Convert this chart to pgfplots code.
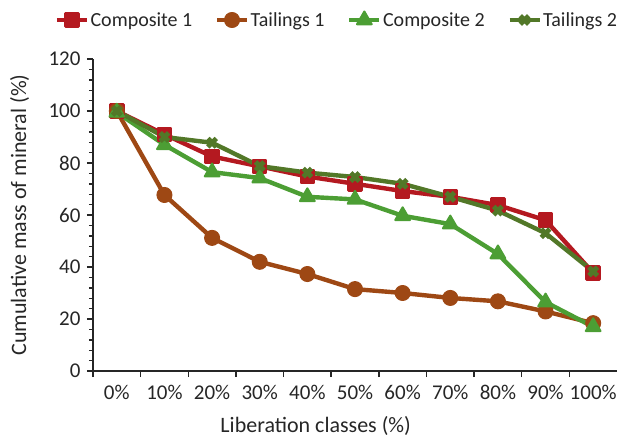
\documentclass[border=0pt]{standalone}
\usepackage{pgfplots}
\pgfplotsset{compat=1.18}
\usepackage{fontspec}
\setmainfont{Carlito}
\definecolor{cA}{RGB}{180,25,32}
\definecolor{cB}{RGB}{158,72,20}
\definecolor{cC}{RGB}{76,158,52}
\definecolor{cD}{RGB}{82,120,40}
\begin{document}
\begin{tikzpicture}
\path[use as bounding box] (-93pt,-66pt) rectangle (524pt,371pt);
\begin{axis}[
  at={(0,0)}, anchor=south west,
  scale only axis, width=524pt, height=312pt,
  xmin=-0.5, xmax=10.5, ymin=0, ymax=120,
  axis x line*=bottom, axis y line*=left,
  axis line style={-, line width=1.6pt, black!85},
  tick align=outside,
  major tick length=6pt, minor tick length=4pt,
  every tick/.style={line width=1.4pt, black!85},
  xtick={-0.5,0.5,...,9.5}, xticklabels={},
  extra x ticks={0,1,...,10},
  extra x tick labels={0\%,10\%,20\%,30\%,40\%,50\%,60\%,70\%,80\%,90\%,100\%},
  extra x tick style={tick style={draw=none}},
  ytick={0,20,...,120}, minor y tick num=4,
  /pgf/number format/assume math mode=true,
  tick label style={font=\fontsize{21}{25}\selectfont, text=black!85},
  xticklabel style={yshift=-5pt},
  yticklabel style={xshift=-3pt},
  xlabel={Liberation classes (\%)},
  ylabel={Cumulative mass of mineral (\%)},
  label style={font=\fontsize{22}{26}\selectfont, text=black!85},
  xlabel style={at={(axis description cs:0.425,-0.198)}, anchor=base},
  ylabel style={at={(axis description cs:-0.14,0.5)}, anchor=center},
  legend columns=4,
  legend style={draw=none, fill=none, at={(axis description cs:0.465,1.125)}, anchor=center,
    font=\fontsize{20}{24}\selectfont, text=black!85,
    /tikz/every even column/.append style={column sep=21pt},
    nodes={inner xsep=1.5pt}},
  legend image code/.code={\draw[mark repeat=2,mark phase=2] plot coordinates {(0pt,0pt) (15pt,0pt) (30pt,0pt)};},
  every axis plot/.append style={line width=4.4pt, line join=round},
  clip=false,
]
\addplot[color=cA, mark=square*, mark size=6.5pt, mark options={fill=cA, line width=2.5pt, line join=round}]
  coordinates {(0,100) (1,91) (2,82.5) (3,78.7) (4,74.8) (5,72) (6,69.2) (7,67) (8,63.8) (9,58) (10,37.7)};
\addlegendentry{Composite 1}
\addplot[color=cB, mark=*, mark size=7.5pt, mark options={fill=cB, line width=1pt}]
  coordinates {(0,100) (1,67.7) (2,51.2) (3,42) (4,37.3) (5,31.5) (6,30) (7,28.1) (8,26.8) (9,22.9) (10,18.4)};
\addlegendentry{Tailings 1}
\addplot[color=cC, mark=triangle*, mark size=8.5pt, mark options={fill=cC, line width=2pt, line join=round}]
  coordinates {(0,99.5) (1,87) (2,76.5) (3,74.2) (4,67) (5,66) (6,59.7) (7,56.5) (8,45) (9,26.5) (10,17)};
\addlegendentry{Composite 2}
\addplot[color=cD, mark=x, mark size=6pt, mark options={line width=4.8pt}]
  coordinates {(0,100) (1,90) (2,87.8) (3,78.8) (4,76.3) (5,74.6) (6,72) (7,67) (8,61.7) (9,53) (10,38.3)};
\addlegendentry{Tailings 2}
\end{axis}
\end{tikzpicture}
\end{document}
